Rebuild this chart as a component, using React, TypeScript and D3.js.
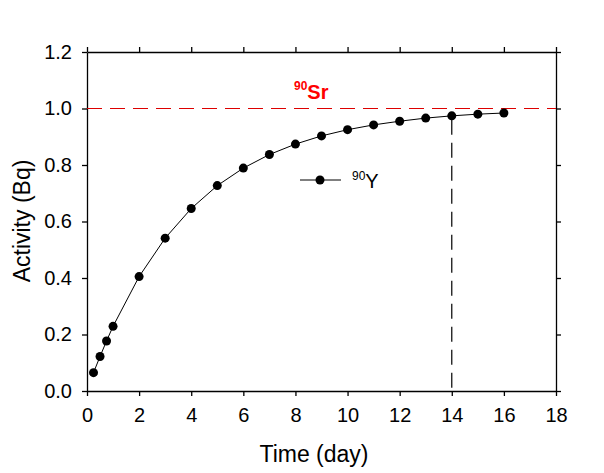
import React, { useEffect, useRef } from 'react';
import * as d3 from 'd3';

// 90Y ingrowth
const timeDays = [0.25, 0.5, 0.75, 1, 2, 3, 4, 5, 6, 7, 8, 9, 10, 11, 12, 13, 14, 15, 16];
const activityBq = [0.065, 0.122, 0.177, 0.229, 0.405, 0.541, 0.646, 0.727, 0.789, 0.837, 0.874, 0.903, 0.925, 0.942, 0.955, 0.966, 0.974, 0.98, 0.984];
const xTicks = [0, 2, 4, 6, 8, 10, 12, 14, 16, 18];
const yTicks = [0, 0.2, 0.4, 0.6, 0.8, 1.0, 1.2];
const srLevel = 1.0;
const markTime = 14;

function App() {
  const svgRef = useRef<SVGSVGElement>(null);

  useEffect(() => {
    const svg = d3.select(svgRef.current);
    svg.selectAll('*').remove();

    const left = 87, right = 556, top = 52, bottom = 391;
    const x = d3.scaleLinear().domain([0, 18]).range([left, right]);
    const y = d3.scaleLinear().domain([0, 1.2]).range([bottom, top]);
    const font = 'Liberation Sans, Arial, sans-serif';

    const styleAxis = (g: any, labels: boolean) => {
      g.select('.domain').attr('stroke', '#000').attr('stroke-width', 1.3);
      g.selectAll('.tick line').attr('stroke', '#000').attr('stroke-width', 1.3);
      g.selectAll('.tick text')
        .attr('font-family', font)
        .attr('font-size', 20)
        .attr('fill', '#000')
        .style('display', labels ? null : 'none');
    };

    // bottom axis
    svg.append('g')
      .attr('transform', `translate(0,${bottom})`)
      .call(d3.axisBottom(x).tickValues(xTicks).tickFormat(d3.format('d')).tickSizeInner(5).tickSizeOuter(0).tickPadding(12))
      .call((g: any) => styleAxis(g, true));

    // top axis
    svg.append('g')
      .attr('transform', `translate(0,${top})`)
      .call(d3.axisTop(x).tickValues(xTicks).tickSizeInner(5).tickSizeOuter(0))
      .call((g: any) => styleAxis(g, false));

    // left axis
    svg.append('g')
      .attr('transform', `translate(${left},0)`)
      .call(d3.axisLeft(y).tickValues(yTicks).tickFormat(d3.format('.1f')).tickSizeInner(5).tickSizeOuter(0).tickPadding(10))
      .call((g: any) => styleAxis(g, true));

    // right axis
    svg.append('g')
      .attr('transform', `translate(${right},0)`)
      .call(d3.axisRight(y).tickValues(yTicks).tickSizeInner(5).tickSizeOuter(0))
      .call((g: any) => styleAxis(g, false));

    // 90Sr equilibrium level
    svg.append('line')
      .attr('x1', x(0)).attr('x2', x(18))
      .attr('y1', y(srLevel)).attr('y2', y(srLevel))
      .attr('stroke', '#dd0000').attr('stroke-width', 1.2)
      .attr('stroke-dasharray', '15,8');

    // vertical marker at 14 days
    const markIdx = timeDays.indexOf(markTime);
    svg.append('line')
      .attr('x1', x(markTime)).attr('x2', x(markTime))
      .attr('y1', y(activityBq[markIdx]) + 4).attr('y2', y(0))
      .attr('stroke', '#000').attr('stroke-width', 1.2)
      .attr('stroke-dasharray', '15,8');

    const pts = timeDays.map((t, i) => [t, activityBq[i]] as [number, number]);

    svg.append('path')
      .datum(pts)
      .attr('fill', 'none')
      .attr('stroke', '#000')
      .attr('stroke-width', 1)
      .attr('d', d3.line().x(d => x(d[0])).y(d => y(d[1])));

    svg.append('g')
      .selectAll('circle')
      .data(pts)
      .join('circle')
      .attr('cx', d => x(d[0]))
      .attr('cy', d => y(d[1]))
      .attr('r', 4.5)
      .attr('fill', '#000');

    // legend
    svg.append('line')
      .attr('x1', 300).attr('x2', 341).attr('y1', 180).attr('y2', 180)
      .attr('stroke', '#000').attr('stroke-width', 1);
    svg.append('circle').attr('cx', 320).attr('cy', 180).attr('r', 4.5).attr('fill', '#000');
    const yLabel = svg.append('text')
      .attr('x', 352).attr('y', 188)
      .attr('font-family', font).attr('font-size', 20).attr('fill', '#000');
    yLabel.append('tspan').attr('font-size', 12).attr('dy', -8).text('90');
    yLabel.append('tspan').attr('dy', 8).text('Y');

    // 90Sr label
    const srLabel = svg.append('text')
      .attr('x', 294).attr('y', 99)
      .attr('font-family', font).attr('fill', '#ff0000').attr('font-weight', 'bold');
    srLabel.append('tspan').attr('font-size', 12).attr('dy', -9).text('90');
    srLabel.append('tspan').attr('font-size', 20).attr('dy', 9).text('Sr');

    // axis titles
    svg.append('text')
      .attr('x', 314).attr('y', 462)
      .attr('text-anchor', 'middle')
      .attr('font-family', font).attr('font-size', 23)
      .text('Time (day)');

    svg.append('text')
      .attr('transform', 'translate(30,221) rotate(-90)')
      .attr('text-anchor', 'middle')
      .attr('font-family', font).attr('font-size', 23)
      .text('Activity (Bq)');
  }, []);

  return (
    <svg ref={svgRef} width={604} height={473} style={{ position: 'absolute', left: 0, top: 0, background: '#fff' }} />
  );
}

export default App;
